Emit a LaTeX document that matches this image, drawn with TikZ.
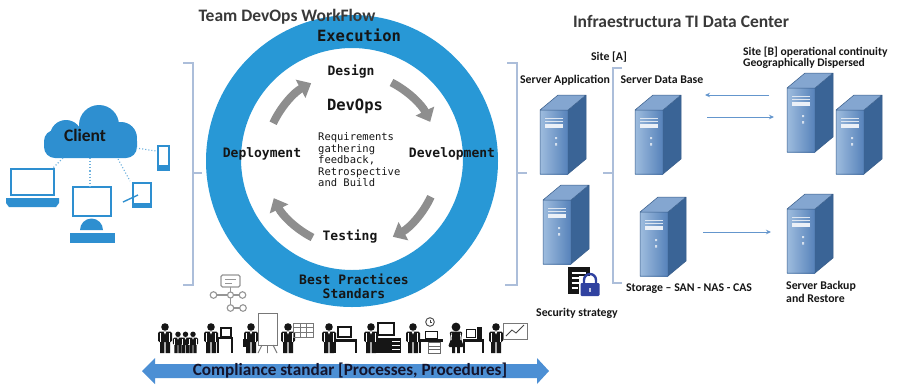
\documentclass[tikz,border=0pt]{standalone}
\usepackage{fontspec}
\setmainfont{Carlito}
\newfontfamily\monofont{DejaVu Sans Mono}
\usetikzlibrary{arrows.meta}

\definecolor{ringblue}{RGB}{40,152,214}
\definecolor{arrowgray}{RGB}{142,142,142}
\definecolor{bracecol}{RGB}{172,190,218}
\definecolor{devblue}{RGB}{46,143,208}
\definecolor{srvfront}{RGB}{86,130,186}
\definecolor{srvlight}{RGB}{158,188,222}
\definecolor{srvside}{RGB}{58,100,150}
\definecolor{srvtop}{RGB}{132,166,208}
\definecolor{srvedge}{RGB}{56,93,138}
\definecolor{linkblue}{RGB}{100,150,205}
\definecolor{bandblue}{RGB}{76,143,212}
\definecolor{ink}{RGB}{22,22,22}
\definecolor{iconline}{RGB}{150,150,150}
\definecolor{lockblue}{RGB}{48,66,160}

\tikzset{
  title/.style={font=\bfseries\fontsize{17.5}{20}\selectfont, text=ink!85, inner sep=0pt},
  label/.style={font=\bfseries\fontsize{11.8}{13.5}\selectfont, text=ink, inner sep=0pt},
  ringtitle/.style={font=\monofont\bfseries\fontsize{15.5}{16}\selectfont, text=ink, inner sep=0pt},
  phase/.style={font=\monofont\bfseries\fontsize{13}{14}\selectfont, text=ink, inner sep=0pt},
  notes/.style={font=\monofont\fontsize{10.5}{11.5}\selectfont, text=ink, inner sep=0pt, align=left},
  cyclearrow/.style={arrowgray, line width=8, -{Triangle[width=20pt,length=12pt]}},
  bracket/.style={bracecol, line width=1.2},
  link/.style={linkblue, line width=0.9, -{Stealth[length=5pt,width=4.5pt]}},
  dotlink/.style={devblue!70, line width=1.1, dotted},
  device/.style={devblue, line width=2.6},
  prop/.style={ink, line width=1.6},
  board/.style={iconline!80!black, line width=0.9},
  server/.pic={
    \fill[srvside] (28,0) -- (46,-15) -- (46,-79) -- (28,-64) -- cycle;
    \fill[srvtop] (0,-64) -- (28,-64) -- (46,-79) -- (18,-79) -- cycle;
    \shade[left color=srvlight, right color=srvfront] (0,0) rectangle (28,-64);
    \draw[srvedge, line width=0.5] (0,0) -- (0,-64) -- (18,-79) -- (46,-79) -- (46,-15) -- (28,0) -- cycle
      (0,-64) -- (28,-64) -- (46,-79) (28,-64) -- (28,0);
    \draw[white!80!srvfront, line width=0.7] (5,-56) -- (23,-56) (5,-53) -- (23,-53);
    \fill[white!88!srvfront] (5,-50) rectangle (23,-46.5);
    \fill[white!75!srvfront] (15,-37) rectangle (17,-35) (15,-31) rectangle (17,-28.5);
  },
  person/.pic={
    \fill[ink] (0,-26) circle (3.8);
    \fill[ink, rounded corners=1.5] (-7,-21.5) -- (7,-21.5) -- (7,-11) -- (-7,-11) -- cycle;
    \fill[ink] (-5,-11.5) rectangle (-0.6,0) (0.6,-11.5) rectangle (5,0);
    \draw[white, line width=0.6] (-4.5,-20) -- (-4.5,-11) (4.5,-20) -- (4.5,-11);
    \fill[white] (-1.4,-21.5) -- (1.4,-21.5) -- (0,-18.5) -- cycle;
  },
  woman/.pic={
    \fill[ink] (0,-26) circle (4.4);
    \fill[ink, rounded corners=1.5] (-6.5,-21.5) -- (6.5,-21.5) -- (5,-14) -- (8,-6) -- (-8,-6) -- (-5,-14) -- cycle;
    \fill[ink] (-3.8,-6.5) rectangle (-1,0) (1,-6.5) rectangle (3.8,0);
    \draw[white, line width=0.6] (-4.3,-20) -- (-4.8,-13) (4.3,-20) -- (4.8,-13);
  }
}

\begin{document}
\begin{tikzpicture}[x=1pt, y=-1pt]
\useasboundingbox[fill=white] (0,0) rectangle (898,384);

% ---------------- Client cloud and devices ----------------
\fill[devblue] (66,136) circle (16) (99,125) circle (20) (121,138) circle (16);
\fill[devblue, rounded corners=11] (44,130) rectangle (137,158);
\node[font=\bfseries\fontsize{17.5}{20}\selectfont, text=ink, inner sep=0pt] (client) at (85,135) {Client};

% laptop
\draw[device] (11,169) rectangle (54,195);
\fill[devblue] (6,198) -- (59,198) -- (59,203) -- (56,207) -- (9,207) -- (6,203) -- cycle;
% desktop
\draw[device] (73,187) rectangle (111,216);
\fill[devblue] (80,230) arc[start angle=180, end angle=360, radius=11.5] -- cycle;
\fill[devblue] (70,233) rectangle (115,243);
% tablet with stylus
\draw[device] (133,183) rectangle (151,207);
\fill[devblue] (133,203) rectangle (151,207);
\draw[devblue, line width=1.4] (123,202) -- (138,195);
% phone
\draw[device, line width=2] (157.5,145.5) rectangle (168.5,169.5);
\fill[devblue] (157.5,165) rectangle (168.5,169.5);

\coordinate (dlap) at (53,168);
\coordinate (dmon) at (90,186);
\coordinate (dtab) at (130,181);
\coordinate (dpho) at (156,151);
\coordinate (cl1) at (63,158);
\coordinate (cl2) at (90,158);
\coordinate (cl3) at (118,159);
\coordinate (cl4) at (136,148);
\draw[dotlink] (cl1) -- (dlap);
\draw[dotlink] (cl2) -- (dmon);
\draw[dotlink] (cl3) -- (dtab);
\draw[dotlink] (cl4) -- (dpho);

% ---------------- Brackets ----------------
\draw[bracket] (183,63) -- (193,63) -- (193,285) -- (183,285) (193,173) -- (202,173);
\draw[bracket] (507,63) -- (517,63) -- (517,285) -- (505,285) (517,173) -- (527,173);
\draw[bracket] (622,68) -- (613,68) -- (613,283) -- (622,283) (613,173) -- (603,173);

% ---------------- DevOps ring ----------------
\fill[ringblue, even odd rule] (352,161) circle (146) (352,159) circle (111);
\node[title] (wf) at (287,17) {Team DevOps WorkFlow};
\node[ringtitle] (exec) at (359,35) {Execution};
\node[phase] (design) at (351,72) {Design};
\node[ringtitle] (devops) at (355,106) {DevOps};
\node[notes, anchor=west] (req) at (318,160)
  {Requirements\\gathering\\feedback,\\Retrospective\\and Build};
\node[phase] (deploy) at (262,154) {Deployment};
\node[phase] (develop) at (452,154) {Development};
\node[phase] (test) at (350,237) {Testing};
\node[phase, align=center, font=\monofont\bfseries\fontsize{13}{14}\selectfont] (best) at (354,286)
  {Best Practices\\Standars};

\draw[cyclearrow] (352,160) ++(-155:87) arc[start angle=-155, end angle=-118, radius=87];
\draw[cyclearrow] (352,160) ++(-63:87) arc[start angle=-63, end angle=-26, radius=87];
\draw[cyclearrow] (352,160) ++(25:87) arc[start angle=25, end angle=62, radius=87];
\draw[cyclearrow] (352,160) ++(117:87) arc[start angle=117, end angle=154, radius=87];

% ---------------- Data center ----------------
\node[title] (dc) at (681,21) {Infraestructura TI Data Center};
\node[label] (siteA) at (609,57) {Site [A]};
\node[label, anchor=west, align=left, font=\bfseries\fontsize{11.6}{11.5}\selectfont] (siteB) at (743,57.5)
  {Site [B] operational continuity\\Geographically Dispersed};
\node[label] (appl) at (565,80) {Server Application};
\node[label] (dbl) at (662,80) {Server Data Base};

\pic at (540,174) {server};
\pic at (543,264) {server};
\pic at (635,174) {server};
\pic at (640,276) {server};
\pic at (787,152) {server};
\pic at (836,174) {server};
\pic at (787,273) {server};

\node[label] (stor) at (689,289) {Storage -- SAN - NAS - CAS};
\node[label, anchor=west, align=left, font=\bfseries\fontsize{11.8}{13}\selectfont] (backup) at (786,291.5)
  {Server Backup\\and Restore};
\node[label] (sec) at (577,313) {Security strategy};

\coordinate (dbIn) at (705,95);
\coordinate (bOut) at (769,95);
\coordinate (dbOut) at (707,117);
\coordinate (bIn) at (774,117);
\coordinate (stOut) at (703,232);
\coordinate (bkIn) at (771,232);
\draw[link] (bOut) -- (dbIn);
\draw[link] (dbOut) -- (bIn);
\draw[link] (stOut) -- (bkIn);

% security icon: document with padlock
\fill[ink] (568,267) rectangle (590,294);
\draw[white, line width=1.3] (571.5,273) -- (586,273) (571.5,278) -- (586,278) (571.5,283) -- (579,283) (571.5,288) -- (578,288);
\fill[white] (579,276) rectangle (601,297);
\draw[lockblue, line width=2.4] (584,284) -- (584,280) arc[start angle=180, end angle=360, radius=6] -- (596,284);
\fill[lockblue, rounded corners=1.2] (580.5,283) rectangle (599.5,296);
\fill[white!70!lockblue] (589,287.5) rectangle (591,291.5);

% ---------------- Workflow icon ----------------
\draw[iconline, line width=1.1, rounded corners=1.5] (221,275) rectangle (240,287);
\draw[iconline, line width=0.9] (225,279) -- (236,279) (225,283) -- (232,283);
\draw[iconline, line width=1.1] (230.5,287) -- (230.5,291.5) (217,295) -- (227.5,295) (233.5,295) -- (239,295)
  (230.5,298) -- (230.5,304.5) (234,308) -- (239.5,308);
\draw[iconline, line width=1.1] (213.5,295) circle (3.3) (230.5,295) circle (3) (242.5,295) circle (3.3)
  (230.5,308) circle (3.3) (243,308) circle (3.3);

% ---------------- People row ----------------
% 1: team
\pic at (165,353) {person};
\pic[scale=0.72] at (178,353) {person};
\pic[scale=0.72] at (185.5,353) {person};
\pic[scale=0.72] at (193,353) {person};
% 2: at a desk
\pic at (211,353) {person};
\draw[prop] (217,338) -- (233,338) (218,338) -- (218,353) (232,338) -- (232,353);
\draw[ink, line width=1.1] (221,328) rectangle (231,337);
% 3: flip chart
\pic at (251,353) {person};
\fill[ink] (243,339) rectangle (250,347);
\draw[board] (258,313) rectangle (277,345);
\draw[board] (262,345) -- (258,353) (273,345) -- (277,353) (267.5,345) -- (267.5,353);
% 4: grid board
\pic at (288,353) {person};
\draw[board] (293,323) rectangle (313,337);
\draw[board, line width=0.6] (293,327.5) -- (313,327.5) (293,332) -- (313,332) (300,323) -- (300,337) (306.5,323) -- (306.5,337);
% 5: workstation
\pic at (329,353) {person};
\draw[ink, line width=1.1] (338,327) rectangle (351,337);
\fill[ink] (334,339) rectangle (357,342);
\draw[prop] (335,342) -- (335,353) (356,342) -- (356,353);
% 6: office desk
\pic at (371,353) {person};
\draw[ink, line width=1.1] (378,323) rectangle (394,335);
\fill[ink] (376,338) rectangle (401,353);
\draw[white, line width=0.6] (392,341) -- (400,341) (392,345) -- (400,345) (392,349) -- (400,349);
% 7: clock and desk
\pic at (413,353) {person};
\draw[ink!80, line width=0.9] (430,322) circle (4.3);
\draw[ink!80, line width=0.7] (430,319.5) -- (430,322) -- (432,322);
\fill[ink] (419,339) rectangle (443,341.5);
\draw[prop] (420,341) -- (420,353);
\draw[iconline!70!black, line width=0.9] (428,342) rectangle (440,353);
\draw[iconline!70!black, line width=0.6] (428,346) -- (440,346) (428,349.5) -- (440,349.5);
\draw[ink, line width=1] (425,331) rectangle (437,338);
% 8: woman at computer
\pic at (456,353) {woman};
\fill[ink] (463,339) rectangle (484,341.5);
\draw[prop] (464,341) -- (464,353) (483,341) -- (483,353);
\draw[ink, line width=1] (466,329) rectangle (475,337);
\fill[ink] (477,327) rectangle (482,339);
% 9: presentation chart
\pic at (496,353) {person};
\draw[board] (503,323) rectangle (527,339);
\draw[ink!80, line width=0.8] (506,336) -- (512,330) -- (516,333) -- (524,325);

% ---------------- Compliance band ----------------
\fill[bandblue] (142,371) -- (155,358) -- (155,364) -- (537,364) -- (537,358) -- (549,371)
  -- (537,384) -- (537,378) -- (155,378) -- (155,384) -- cycle;
\node[font=\bfseries\fontsize{17.2}{19}\selectfont, text=ink!90!blue, inner sep=0pt] (comp) at (350,371)
  {Compliance standar [Processes, Procedures]};

\end{tikzpicture}
\end{document}
